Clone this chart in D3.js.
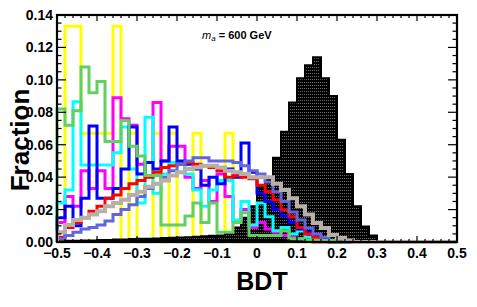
<!DOCTYPE html>
<html>
<head>
<meta charset="utf-8">
<script src="https://cdn.jsdelivr.net/npm/d3@7"></script>
<style>
  html, body { margin: 0; padding: 0; background: #fff; }
  svg { display: block; font-family: "Liberation Sans", Arial, sans-serif; }
</style>
</head>
<body>
<div id="chart"></div>
<script>
// BDT distributions, 50 bins from -0.5 to 0.5 (bin width 0.02)
const binEdges = d3.range(51).map(i => -0.5 + i * 0.02);

const yellowVals = [0, 0.133, 0.133, 0.067, 0.067, 0.067, 0.067, 0.133, 0, 0.067,
  0, 0, 0.067, 0, 0.067, 0, 0, 0.067, 0, 0,
  0, 0.067, 0, 0, 0, 0, 0, 0, 0, 0,
  0, 0, 0, 0, 0, 0, 0, 0, 0, 0,
  0, 0, 0, 0, 0, 0, 0, 0, 0, 0];

const blackVals = [0.0005, 0.0007, 0.0008, 0.001, 0.001, 0.0012, 0.0013, 0.0015, 0.0016, 0.0018,
  0.002, 0.002, 0.0022, 0.0024, 0.0026, 0.0028, 0.003, 0.0032, 0.0035, 0.0038,
  0.004, 0.005, 0.009, 0.015, 0.022, 0.034, 0.040, 0.052, 0.068, 0.086,
  0.101, 0.109, 0.114, 0.101, 0.090, 0.063, 0.042, 0.022, 0.0095, 0.004,
  0.0005, 0, 0, 0, 0, 0, 0, 0, 0, 0];

const magentaVals = [0.012, 0.028, 0.022, 0.044, 0.033, 0.044, 0.033, 0.089, 0.076, 0.072,
  0.048, 0.049, 0.086, 0.05, 0.059, 0.059, 0.04, 0.033, 0.038, 0.025,
  0.042, 0.028, 0.013, 0.02, 0.009, 0.012, 0.008, 0.006, 0.004, 0.003,
  0.002, 0.001, 0, 0, 0, 0, 0, 0, 0, 0,
  0, 0, 0, 0, 0, 0, 0, 0, 0, 0];

const cyanVals = [0.024, 0.032, 0.0865, 0.0475, 0.0475, 0.0475, 0.0475, 0.055, 0.071, 0.045,
  0.024, 0.077, 0.03, 0.042, 0.049, 0.049, 0.042, 0.032, 0.022, 0.032,
  0.038, 0.038, 0.0135, 0.025, 0.0105, 0.024, 0.0155, 0.007, 0.009, 0.005,
  0.007, 0.003, 0.002, 0.001, 0, 0, 0, 0, 0, 0,
  0, 0, 0, 0, 0, 0, 0, 0, 0, 0];

const blueVals = [0.015, 0.022, 0.01, 0.027, 0.0715, 0.027, 0.027, 0.033, 0.045, 0.071,
  0.042, 0.049, 0.045, 0.05, 0.071, 0.05, 0.048, 0.045, 0.035, 0.04,
  0.036, 0.045, 0.04, 0.061, 0.043, 0.03, 0.025, 0.02, 0.016, 0.012,
  0.008, 0.006, 0.004, 0.002, 0.001, 0, 0, 0, 0, 0,
  0, 0, 0, 0, 0, 0, 0, 0, 0, 0];

const redVals = [0.003, 0.009, 0.012, 0.015, 0.019, 0.022, 0.027, 0.029, 0.033, 0.036,
  0.038, 0.040, 0.043, 0.046, 0.047, 0.048, 0.049, 0.048, 0.047, 0.046,
  0.044, 0.040, 0.041, 0.040, 0.039, 0.035, 0.031, 0.026, 0.0197, 0.0155,
  0.009, 0.005, 0.003, 0.001, 0, 0, 0, 0, 0, 0,
  0, 0, 0, 0, 0, 0, 0, 0, 0, 0];

const slateVals = [0.002, 0.004, 0.006, 0.008, 0.009, 0.0105, 0.013, 0.017, 0.02, 0.023,
  0.028, 0.033, 0.036, 0.04, 0.044, 0.048, 0.05, 0.052, 0.052, 0.05,
  0.05, 0.05, 0.049, 0.047, 0.044, 0.042, 0.037, 0.031, 0.025, 0.0185,
  0.0135, 0.0086, 0.005, 0.003, 0.001, 0, 0, 0, 0, 0,
  0, 0, 0, 0, 0, 0, 0, 0, 0, 0];

const greenVals = [0.082, 0.072, 0.081, 0.108, 0.092, 0.099, 0.062, 0.062, 0.075, 0.059,
  0.053, 0.041, 0.041, 0.0105, 0.0105, 0.0105, 0.016, 0.024, 0.012, 0.024,
  0.006, 0.006, 0.012, 0.018, 0.004, 0.004, 0.004, 0.004, 0.007, 0.002,
  0.002, 0.001, 0.001, 0.001, 0.001, 0, 0, 0, 0, 0,
  0, 0, 0, 0, 0, 0, 0, 0, 0, 0];

const grayVals = [0.006, 0.0105, 0.0135, 0.015, 0.017, 0.019, 0.022, 0.024, 0.026, 0.029,
  0.031, 0.034, 0.036, 0.038, 0.041, 0.043, 0.045, 0.046, 0.047, 0.047,
  0.046, 0.044, 0.043, 0.042, 0.04, 0.04, 0.04, 0.036, 0.032, 0.027,
  0.022, 0.017, 0.0117, 0.0086, 0.0043, 0.0025, 0.001, 0, 0, 0,
  0, 0, 0, 0, 0, 0, 0, 0, 0, 0];

const xTicks = [-0.5, -0.4, -0.3, -0.2, -0.1, 0, 0.1, 0.2, 0.3, 0.4, 0.5];
const yTicks = [0, 0.02, 0.04, 0.06, 0.08, 0.10, 0.12, 0.14];

// draw order: first in list drawn first
const lineSeries = [
  { name: 'yellow', values: yellowVals, color: '#ffff00', width: 3 },
  { name: 'black', values: blackVals, color: '#000000', width: 2, filled: true },
  { name: 'magenta', values: magentaVals, color: '#ff00ff', width: 3 },
  { name: 'cyan', values: cyanVals, color: '#00ffff', width: 3 },
  { name: 'blue', values: blueVals, color: '#0000ff', width: 3 },
  { name: 'red', values: redVals, color: '#ff0000', width: 3 },
  { name: 'slate', values: slateVals, color: '#6464dc', width: 3 },
  { name: 'green', values: greenVals, color: '#60d060', width: 3 },
  { name: 'gray', values: grayVals, color: '#b8b0a8', width: 4 }
];

const W = 477, H = 307;
const margin = { top: 15, right: 20, bottom: 65, left: 57 };

const svg = d3.select('#chart').append('svg')
  .attr('width', W)
  .attr('height', H);

const x = d3.scaleLinear().domain([-0.5, 0.5]).range([margin.left, W - margin.right]);
const y = d3.scaleLinear().domain([0, 0.14]).range([H - margin.bottom, margin.top]);

// dotted fill for the black histogram
const defs = svg.append('defs');
const pat = defs.append('pattern')
  .attr('id', 'dots')
  .attr('patternUnits', 'userSpaceOnUse')
  .attr('width', 2)
  .attr('height', 3);
pat.append('rect').attr('width', 2).attr('height', 3).attr('fill', '#000');
pat.append('rect').attr('x', 0).attr('y', 1).attr('width', 1).attr('height', 1).attr('fill', '#6a6a6a');

function stepPath(values) {
  const p = d3.path();
  p.moveTo(x(binEdges[0]), y(0));
  values.forEach((v, i) => {
    p.lineTo(x(binEdges[i]), y(v));
    p.lineTo(x(binEdges[i + 1]), y(v));
  });
  p.lineTo(x(binEdges[binEdges.length - 1]), y(0));
  return p.toString();
}

const histG = svg.append('g');
lineSeries.forEach(s => {
  histG.append('path')
    .attr('d', stepPath(s.values) + (s.filled ? 'Z' : ''))
    .attr('fill', s.filled ? 'url(#dots)' : 'none')
    .attr('stroke', s.color)
    .attr('stroke-width', s.width)
    .attr('stroke-linejoin', 'miter');
});

// frame with ticks on all four sides
const x0 = x.range()[0], x1 = x.range()[1];
const y0 = y.range()[0], y1 = y.range()[1];
const axisG = svg.append('g').attr('stroke', '#000').attr('stroke-width', 1.2);

// x ticks (major every 0.1, minor every 0.02)
d3.range(0, 51).forEach(i => {
  const v = -0.5 + i * 0.02;
  const len = i % 5 === 0 ? 6 : 3;
  axisG.append('line').attr('x1', x(v)).attr('x2', x(v)).attr('y1', y0).attr('y2', y0 - len);
  axisG.append('line').attr('x1', x(v)).attr('x2', x(v)).attr('y1', y1).attr('y2', y1 + len);
});
// y ticks (major every 0.02, minor every 0.005)
d3.range(0, 29).forEach(i => {
  const v = i * 0.005;
  const len = i % 4 === 0 ? 9 : 4.5;
  axisG.append('line').attr('x1', x0).attr('x2', x0 + len).attr('y1', y(v)).attr('y2', y(v));
  axisG.append('line').attr('x1', x1).attr('x2', x1 - len).attr('y1', y(v)).attr('y2', y(v));
});

svg.append('rect')
  .attr('x', x0).attr('y', y1)
  .attr('width', x1 - x0).attr('height', y0 - y1)
  .attr('fill', 'none')
  .attr('stroke', '#000')
  .attr('stroke-width', 2.2);

// tick labels
svg.append('g').selectAll('text')
  .data(xTicks)
  .join('text')
  .attr('x', d => x(d))
  .attr('y', y0 + 16)
  .attr('text-anchor', 'middle')
  .attr('font-size', 14)
  .attr('font-weight', 'bold')
  .text(d => d === 0 ? '0' : d3.format('.1f')(d).replace('-', '\u2212'));

svg.append('g').selectAll('text')
  .data(yTicks)
  .join('text')
  .attr('x', x0 - 4)
  .attr('y', d => y(d) + 5)
  .attr('text-anchor', 'end')
  .attr('font-size', 14)
  .attr('font-weight', 'bold')
  .text(d => d3.format('.2f')(d));

// axis titles
svg.append('text')
  .attr('x', (x0 + x1) / 2 + 5)
  .attr('y', 290)
  .attr('text-anchor', 'middle')
  .attr('font-size', 25)
  .attr('font-weight', 'bold')
  .text('BDT');

svg.append('text')
  .attr('transform', 'translate(29,140) rotate(-90)')
  .attr('text-anchor', 'middle')
  .attr('font-size', 26)
  .attr('font-weight', 'bold')
  .text('Fraction');

// mass label
const lab = svg.append('text')
  .attr('x', 202)
  .attr('y', 39)
  .attr('font-size', 11);
lab.append('tspan').attr('font-style', 'italic').text('m');
lab.append('tspan').attr('font-style', 'italic').attr('font-size', 8).attr('dy', 2).text('a');
lab.append('tspan').attr('font-weight', 'bold').attr('dy', -2).text(' = 600 GeV');
</script>
</body>
</html>
